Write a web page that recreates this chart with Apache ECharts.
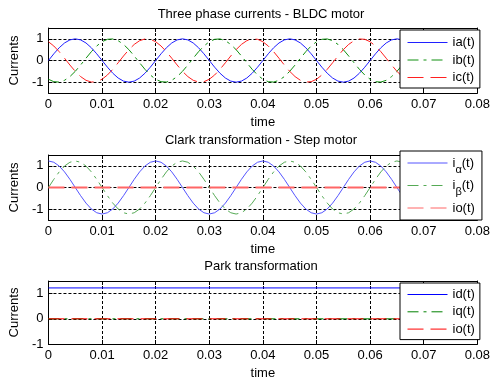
<!DOCTYPE html>
<html>
<head>
<meta charset="utf-8">
<script src="https://cdn.jsdelivr.net/npm/echarts@6/dist/echarts.min.js"></script>
<style>
html,body{margin:0;padding:0;background:#fff;}
#chart{width:493px;height:381px;}
</style>
</head>
<body>
<div id="chart"></div>
<script>
// sample times (s)
const t = [0,0.001,0.002,0.003,0.004,0.005,0.006,0.007,0.008,0.009,
0.010,0.011,0.012,0.013,0.014,0.015,0.016,0.017,0.018,0.019,
0.020,0.021,0.022,0.023,0.024,0.025,0.026,0.027,0.028,0.029,
0.030,0.031,0.032,0.033,0.034,0.035,0.036,0.037,0.038,0.039,
0.040,0.041,0.042,0.043,0.044,0.045,0.046,0.047,0.048,0.049,
0.050,0.051,0.052,0.053,0.054,0.055,0.056,0.057,0.058,0.059,
0.060,0.061,0.062,0.063,0.064,0.065,0.066,0.067,0.068,0.069,0.070];

// Three phase currents
const ia = [0,0.309,0.588,0.809,0.951,1,0.951,0.809,0.588,0.309,0,-0.309,-0.588,-0.809,-0.951,-1,-0.951,-0.809,-0.588,-0.309,
0,0.309,0.588,0.809,0.951,1,0.951,0.809,0.588,0.309,0,-0.309,-0.588,-0.809,-0.951,-1,-0.951,-0.809,-0.588,-0.309,
0,0.309,0.588,0.809,0.951,1,0.951,0.809,0.588,0.309,0,-0.309,-0.588,-0.809,-0.951,-1,-0.951,-0.809,-0.588,-0.309,
0,0.309,0.588,0.809,0.951,1,0.951,0.809,0.588,0.309,0];
const ib = [-0.866,-0.978,-0.995,-0.914,-0.743,-0.5,-0.208,0.105,0.407,0.669,0.866,0.978,0.995,0.914,0.743,0.5,0.208,-0.105,-0.407,-0.669,
-0.866,-0.978,-0.995,-0.914,-0.743,-0.5,-0.208,0.105,0.407,0.669,0.866,0.978,0.995,0.914,0.743,0.5,0.208,-0.105,-0.407,-0.669,
-0.866,-0.978,-0.995,-0.914,-0.743,-0.5,-0.208,0.105,0.407,0.669,0.866,0.978,0.995,0.914,0.743,0.5,0.208,-0.105,-0.407,-0.669,
-0.866,-0.978,-0.995,-0.914,-0.743,-0.5,-0.208,0.105,0.407,0.669,0.866];
const ic = [0.866,0.669,0.407,0.105,-0.208,-0.5,-0.743,-0.914,-0.995,-0.978,-0.866,-0.669,-0.407,-0.105,0.208,0.5,0.743,0.914,0.995,0.978,
0.866,0.669,0.407,0.105,-0.208,-0.5,-0.743,-0.914,-0.995,-0.978,-0.866,-0.669,-0.407,-0.105,0.208,0.5,0.743,0.914,0.995,0.978,
0.866,0.669,0.407,0.105,-0.208,-0.5,-0.743,-0.914,-0.995,-0.978,-0.866,-0.669,-0.407,-0.105,0.208,0.5,0.743,0.914,0.995,0.978,
0.866,0.669,0.407,0.105,-0.208,-0.5,-0.743,-0.914,-0.995,-0.978,-0.866];

// Clark transformation
const iAlpha = [1.225,1.165,0.991,0.72,0.378,0,-0.378,-0.72,-0.991,-1.165,-1.225,-1.165,-0.991,-0.72,-0.378,0,0.378,0.72,0.991,1.165,
1.225,1.165,0.991,0.72,0.378,0,-0.378,-0.72,-0.991,-1.165,-1.225,-1.165,-0.991,-0.72,-0.378,0,0.378,0.72,0.991,1.165,
1.225,1.165,0.991,0.72,0.378,0,-0.378,-0.72,-0.991,-1.165,-1.225,-1.165,-0.991,-0.72,-0.378,0,0.378,0.72,0.991,1.165,
1.225,1.165,0.991,0.72,0.378,0,-0.378,-0.72,-0.991,-1.165,-1.225];
const iBeta = [0,0.378,0.72,0.991,1.165,1.225,1.165,0.991,0.72,0.378,0,-0.378,-0.72,-0.991,-1.165,-1.225,-1.165,-0.991,-0.72,-0.378,
0,0.378,0.72,0.991,1.165,1.225,1.165,0.991,0.72,0.378,0,-0.378,-0.72,-0.991,-1.165,-1.225,-1.165,-0.991,-0.72,-0.378,
0,0.378,0.72,0.991,1.165,1.225,1.165,0.991,0.72,0.378,0,-0.378,-0.72,-0.991,-1.165,-1.225,-1.165,-0.991,-0.72,-0.378,
0,0.378,0.72,0.991,1.165,1.225,1.165,0.991,0.72,0.378,0];
const ioClark = [0,0];

// Park transformation
const tPark = [0,0.07];
const idPark = [1.225,1.225];
const iqPark = [0,0];
const ioPark = [0,0];

const titles = ['Three phase currents - BLDC motor','Clark transformation - Step motor','Park transformation'];
const xTicks = [0,0.01,0.02,0.03,0.04,0.05,0.06,0.07,0.08];
const yTicks = [-1,0,1];

const FONT = 'Liberation Sans, Arial, sans-serif';
const gridTops = [28,155,281];
const yMins = [-1.5,-1.5,-1];
const yMax = 1.5;

const grids = gridTops.map(top => ({left:45, width:433, top:top, height:65, show:false}));

const xAxes = [], yAxes = [];
for (let g = 0; g < 3; g++) {
  xAxes.push({
    type:'value', gridIndex:g, position:'bottom', min:0, max:0.08, interval:0.01,
    name:'time', nameLocation:'middle', nameGap:23,
    nameTextStyle:{color:'#000', fontSize:13, fontFamily:FONT},
    axisLine:{show:true, onZero:false, lineStyle:{color:'#000', width:1}},
    axisTick:{show:true, inside:true, length:4, lineStyle:{color:'#000'}},
    axisLabel:{color:'#000', fontSize:13, fontFamily:FONT, margin:5,
      formatter: v => String(Math.round(v*100)/100)},
    splitLine:{show:true, lineStyle:{color:'#000', type:[3,2], width:1}}
  });
  xAxes.push({
    type:'value', gridIndex:g, position:'top', min:0, max:0.08, interval:0.01,
    axisLine:{show:true, onZero:false, lineStyle:{color:'#000', width:1}},
    axisTick:{show:true, inside:true, length:4, lineStyle:{color:'#000'}},
    axisLabel:{show:false}, splitLine:{show:false}
  });
  yAxes.push({
    type:'value', gridIndex:g, position:'left', min:yMins[g], max:yMax,
    name:'Currents', nameLocation:'middle', nameGap:25, nameRotate:90,
    nameTextStyle:{color:'#000', fontSize:13, fontFamily:FONT},
    axisLine:{show:true, onZero:false, lineStyle:{color:'#000', width:1}},
    axisTick:{show:true, inside:true, length:4, customValues:yTicks, lineStyle:{color:'#000'}},
    axisLabel:{color:'#000', fontSize:13, fontFamily:FONT, margin:5, customValues:yTicks},
    splitLine:{show:true, lineStyle:{color:'#000', type:[3,2], width:1}}
  });
  yAxes.push({
    type:'value', gridIndex:g, position:'right', min:yMins[g], max:yMax,
    axisLine:{show:true, onZero:false, lineStyle:{color:'#000', width:1}},
    axisTick:{show:true, inside:true, length:4, customValues:yTicks, lineStyle:{color:'#000'}},
    axisLabel:{show:false, customValues:yTicks}, splitLine:{show:false}
  });
}

function pairs(xs, ys){ return xs.map((x,i)=>[x, ys[i]]); }

const dashDot = [11,5,3,5];
const dashed = [16,7];

const colors = {
  ia:'#2020ff', ib:'#109010', ic:'#ff2020',
  ial:'#5555ff', ibe:'#55aa55', io2:'#ff6666',
  id:'#0000ff', iq:'#008000', io3:'#ff0000'
};
const types = {
  ia:'solid', ib:dashDot, ic:dashed,
  ial:'solid', ibe:dashDot, io2:dashed,
  id:'solid', iq:dashDot, io3:dashed
};

function line(name, g, data, width){
  return {
    name:name, type:'line', xAxisIndex:2*g, yAxisIndex:2*g, data:data,
    symbol:'none', showSymbol:false, animation:false, silent:true,
    lineStyle:{color:colors[name], width:width||1, type:types[name]},
    itemStyle:{color:colors[name]}
  };
}

const series = [
  line('ia', 0, pairs(t, ia)),
  line('ib', 0, pairs(t, ib)),
  line('ic', 0, pairs(t, ic)),
  line('ial', 1, pairs(t, iAlpha)),
  line('ibe', 1, pairs(t, iBeta)),
  line('io2', 1, pairs(tPark, ioClark), 2),
  line('id', 2, pairs(tPark, idPark)),
  line('iq', 2, pairs(tPark, iqPark)),
  line('io3', 2, pairs(tPark, ioPark))
];

const labels = {
  ia:'ia(t)', ib:'ib(t)', ic:'ic(t)',
  ial:'{n|i}{s|α}{n|(t)}', ibe:'{n|i}{s|β}{n|(t)}', io2:'{n|io(t)}{s| }',
  id:'id(t)', iq:'iq(t)', io3:'io(t)'
};

function legend(names, top, padding, gap){
  return {
    show:true, orient:'vertical', left:400, top:top, padding:padding, itemGap:gap,
    itemWidth:40, itemHeight:14, selectedMode:false,
    backgroundColor:'#fff', borderColor:'#000', borderWidth:1,
    itemStyle:{opacity:0, borderWidth:0},
    data:names.map(n => ({name:n, lineStyle:{color:colors[n], width:1, type:types[n]}})),
    formatter: n => labels[n],
    textStyle:{color:'#000', fontSize:13, fontFamily:FONT,
      rich:{
        n:{color:'#000', fontSize:13, fontFamily:FONT},
        s:{color:'#000', fontSize:11, fontFamily:FONT, padding:[13,0,0,0], lineHeight:12}
      }}
  };
}

const option = {
  animation:false,
  backgroundColor:'#fff',
  title: titles.map((txt,i) => ({
    text:txt, left:261, top:[8,134,260][i], padding:0, textAlign:'center',
    textStyle:{color:'#000', fontSize:13, fontWeight:'normal', fontFamily:FONT}
  })),
  grid: grids,
  xAxis: xAxes,
  yAxis: yAxes,
  legend: [
    legend(['ia','ib','ic'], 30, [6,5,4,7], 4.5),
    legend(['ial','ibe','io2'], 151, [0,4,0,7], -1.5),
    legend(['id','iq','io3'], 283, [5,5,4,7], 4.3)
  ],
  series: series
};

const chart = echarts.init(document.getElementById('chart'), null, {renderer:'canvas'});
chart.setOption(option);
</script>
</body>
</html>
